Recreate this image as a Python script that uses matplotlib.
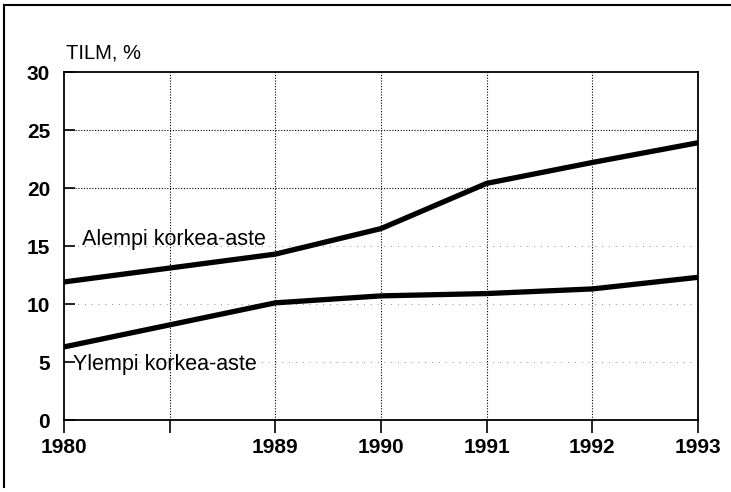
import matplotlib
matplotlib.use('Agg')
import matplotlib.pyplot as plt
from matplotlib.lines import Line2D

plt.rcParams['font.family'] = ['Liberation Sans', 'DejaVu Sans']

# positions on the x axis are not proportional to time: 1980 .. (gap) .. 1989..1993
x_pos = [0, 2, 3, 4, 5, 6]
x_labels = ['1980', '1989', '1990', '1991', '1992', '1993']

alempi = [11.9, 14.3, 16.5, 20.4, 22.2, 23.9]
ylempi = [6.3, 10.1, 10.7, 10.9, 11.3, 12.3]

y_ticks = [0, 5, 10, 15, 20, 25, 30]

fig = plt.figure(figsize=(7.31, 4.92), dpi=100)
ax = fig.add_axes([64/731, 1-420/492, (698-64)/731, (420-72)/492])

# grid
for xv in range(1, 7):
	ax.axvline(xv, color='k', linestyle=(0, (1, 1.5)), linewidth=0.8, zorder=1)
for yv in [20, 25]:
	ax.axhline(yv, color='k', linestyle=(0, (1, 1.5)), linewidth=0.8, zorder=1)
for yv in [5, 10, 15]:
	ax.axhline(yv, color='0.55', linestyle=(0, (1, 6)), linewidth=0.7, zorder=1)

ax.plot(x_pos, alempi, color='k', linewidth=3.8, solid_capstyle='round', solid_joinstyle='round', zorder=3)
ax.plot(x_pos, ylempi, color='k', linewidth=3.8, solid_capstyle='round', solid_joinstyle='round', zorder=3)

ax.set_xlim(0, 6)
ax.set_ylim(0, 30)

tick_labels = ['1980', ''] + x_labels[1:]
ax.set_xticks(range(7))
ax.set_xticklabels(tick_labels)
ax.set_yticks(y_ticks)
ax.set_yticklabels([str(v) for v in y_ticks])

ax.tick_params(axis='x', direction='out', length=9, width=1.2, pad=4, labelsize=15)
ax.tick_params(axis='y', direction='in', length=8, width=1.2, pad=10, labelsize=15)
for lab in ax.get_xticklabels() + ax.get_yticklabels():
	lab.set_fontweight('bold')

for s in ax.spines.values():
	s.set_linewidth(1.3)

ax.text(0.17, 15.6, 'Alempi korkea-aste', fontsize=15.5, va='center', ha='left')
ax.text(0.085, 4.8, 'Ylempi korkea-aste', fontsize=15.5, va='center', ha='left')
ax.text(0.003, 1.055, 'TILM, %', transform=ax.transAxes, fontsize=14.5, va='center', ha='left')

# outer frame (left and top edges)
fig.add_artist(Line2D([4/731, 4/731], [1-5/492, 1-487/492], color='k', linewidth=1.5, transform=fig.transFigure))
fig.add_artist(Line2D([4/731, 1], [1-5/492, 1-5/492], color='k', linewidth=1.5, transform=fig.transFigure))

fig.savefig('out.png', dpi=100)
